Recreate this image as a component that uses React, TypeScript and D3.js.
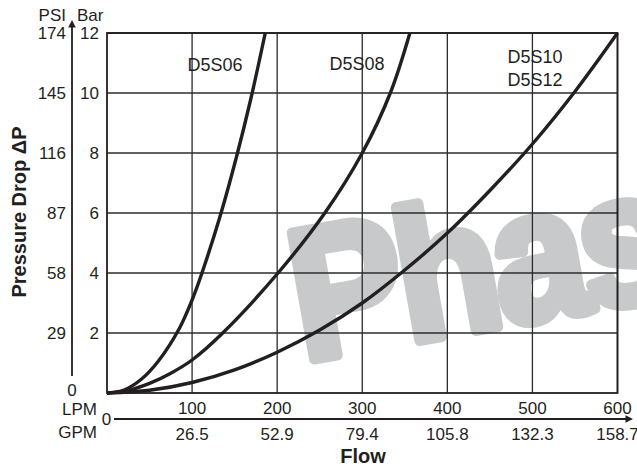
import React from "react";
import * as d3 from "d3";

// ---- data ----
const LPM_TICKS = [100, 200, 300, 400, 500, 600];
const GPM_LABELS = ["26.5", "52.9", "79.4", "105.8", "132.3", "158.7"];
const BAR_TICKS = [2, 4, 6, 8, 10, 12];
const PSI_LABELS = ["29", "58", "87", "116", "145", "174"];

// [flow LPM, pressure drop bar]
const D5S06: [number, number][] = [
  [0, 0], [20, 0.1], [40, 0.45], [60, 1.05], [85, 2.15], [100, 3.1], [111, 3.95], [133, 5.9], [152, 7.85], [169, 9.8], [186, 12],
];
const D5S08: [number, number][] = [
  [0, 0], [25, 0.09], [50, 0.32], [75, 0.66], [100, 1.1], [136, 2], [201, 4], [256, 6], [300, 8], [333, 10], [356, 12],
];
const D5S10: [number, number][] = [
  [0, 0], [50, 0.09], [100, 0.35], [150, 0.77], [200, 1.36], [250, 2.1], [300, 3.0], [350, 4.1], [400, 5.33], [450, 6.75], [500, 8.3], [550, 10.05], [600, 12],
];
const SERIES = [
  { name: "D5S06", data: D5S06 },
  { name: "D5S08", data: D5S08 },
  { name: "D5S10", data: D5S10 },
];

const W = 637;
const H = 468;
const INK = "#231f20";
const FONT = "'Liberation Sans', Arial, Helvetica, sans-serif";

export default function App() {
  const x = d3.scaleLinear().domain([0, 600]).range([107, 617.5]);
  const y = d3.scaleLinear().domain([0, 12]).range([393, 33]);
  const line = d3
    .line<[number, number]>()
    .x((d) => x(d[0]))
    .y((d) => y(d[1]))
    .curve(d3.curveCatmullRom.alpha(0.5));

  const axX = 72; // left arrow axis
  const axY = 419; // bottom arrow axis

  return (
    <svg
      width={W}
      height={H}
      viewBox={`0 0 ${W} ${H}`}
      style={{ position: "absolute", left: 0, top: 0, display: "block", background: "#fff" }}
      fontFamily={FONT}
    >
      <rect x={0} y={0} width={W} height={H} fill="#fff" />
      {/* watermark */}
      <text
        transform="translate(303,361) rotate(-10) scale(0.9,1)"
        fontSize={186}
        fontWeight={700}
        letterSpacing={-6}
        fill="#c8c9cb"
        stroke="#c8c9cb"
        strokeWidth={11}
        strokeLinejoin="round"
      >
        Phase
      </text>

      {/* grid */}
      {LPM_TICKS.map((t) => (
        <line key={"vx" + t} x1={x(t)} x2={x(t)} y1={y(0)} y2={y(12)} stroke="#2b2b2b" strokeWidth={1.3} />
      ))}
      {BAR_TICKS.map((t) => (
        <line key={"hy" + t} x1={x(0)} x2={x(600)} y1={y(t)} y2={y(t)} stroke="#2b2b2b" strokeWidth={1.3} />
      ))}
      <rect x={x(0)} y={y(12)} width={x(600) - x(0)} height={y(0) - y(12)} fill="none" stroke={INK} strokeWidth={1.8} />

      {/* curves */}
      {SERIES.map((s) => (
        <path key={s.name} d={line(s.data) || ""} fill="none" stroke={INK} strokeWidth={3.4} strokeLinecap="butt" />
      ))}

      {/* curve labels */}
      <g fontSize={18} fill={INK} textAnchor="middle">
        <text x={215} y={70.5}>D5S06</text>
        <text x={357} y={70}>D5S08</text>
        <text x={535} y={62.5}>D5S10</text>
        <text x={535} y={86}>D5S12</text>
      </g>

      {/* left axis arrow */}
      <line x1={axX} x2={axX} y1={376} y2={26} stroke={INK} strokeWidth={1.8} />
      <path d={`M${axX},20 L${axX - 3.8},27.5 L${axX + 3.8},27.5 Z`} fill={INK} />
      <g fontSize={17} fill={INK}>
        <text x={66} y={21} textAnchor="end">PSI</text>
        <text x={77} y={21}>Bar</text>
        {BAR_TICKS.map((t, i) => (
          <g key={"yl" + t}>
            <text x={66} y={y(t)} dy="0.36em" textAnchor="end">{PSI_LABELS[i]}</text>
            <text x={99} y={y(t)} dy="0.36em" textAnchor="end">{t}</text>
          </g>
        ))}
        <text x={axX} y={396} textAnchor="middle">0</text>
      </g>
      <text
        transform="translate(26,212) rotate(-90)"
        textAnchor="middle"
        fontSize={20}
        fontWeight={700}
        fill={INK}
      >
        Pressure Drop ΔP
      </text>

      {/* bottom axis arrow */}
      <line x1={114} x2={626} y1={axY} y2={axY} stroke={INK} strokeWidth={1.8} />
      <path d={`M633,${axY} L625.5,${axY - 3.8} L625.5,${axY + 3.8} Z`} fill={INK} />
      <g fontSize={17} fill={INK}>
        <text x={97} y={415} textAnchor="end">LPM</text>
        <text x={97} y={437.5} textAnchor="end">GPM</text>
        <text x={106.5} y={425} textAnchor="middle">0</text>
        {LPM_TICKS.map((t, i) => (
          <g key={"xl" + t}>
            <text x={x(t)} y={413.5} textAnchor="middle">{t}</text>
            <text x={x(t)} y={440} textAnchor="middle">{GPM_LABELS[i]}</text>
          </g>
        ))}
      </g>
      <text x={363} y={463} textAnchor="middle" fontSize={20} fontWeight={700} fill={INK}>
        Flow
      </text>
    </svg>
  );
}
